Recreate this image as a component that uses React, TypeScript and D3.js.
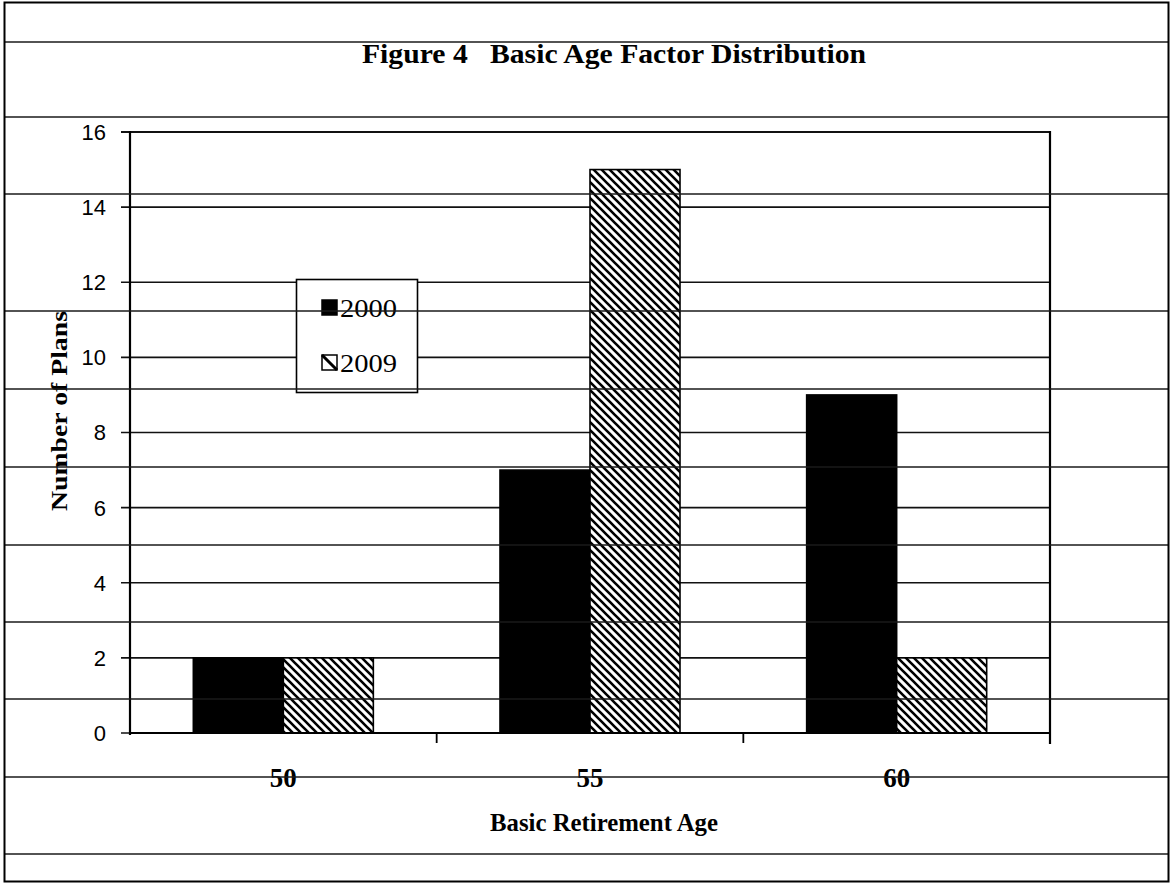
import React from "react";
import * as d3 from "d3";

// ---- data ----
const categories = ["50", "55", "60"];
const seriesNames = ["2000", "2009"];
const values2000 = [2, 7, 9];
const values2009 = [2, 15, 2];
const yTicks = [0, 2, 4, 6, 8, 10, 12, 14, 16];
const titleText = "Figure 4\u00a0\u00a0\u00a0Basic Age Factor Distribution";
const xTitle = "Basic Retirement Age";
const yTitle = "Number of Plans";

// decorative horizontal rules of the scanned page
const pageRules = [42, 117, 194, 311, 389, 467, 545, 622, 699, 777, 854];

const W = 1172;
const H = 884;
const M = { left: 130, right: 1050, top: 132, bottom: 733 };
const SERIF = "'Liberation Serif', 'Times New Roman', serif";
const SANS = "'Liberation Sans', Arial, sans-serif";

export default function App() {
  const x0 = d3.scaleBand<string>().domain(categories).range([M.left, M.right]).paddingInner(0).paddingOuter(0);
  const bw = x0.bandwidth();
  const groupW = bw * 0.587;
  const x1 = d3.scaleBand<string>().domain(seriesNames).range([(bw - groupW) / 2, (bw + groupW) / 2]);
  const y = d3.scaleLinear().domain([0, 16]).range([M.bottom, M.top]);

  const seriesData: { name: string; values: number[] }[] = [
    { name: seriesNames[0], values: values2000 },
    { name: seriesNames[1], values: values2009 },
  ];
  const fillFor = (name: string) => (name === "2000" ? "#000" : "url(#hatch)");

  const catTicks = d3.range(categories.length + 1).map((i) => M.left + i * bw);

  return (
    <svg width={W} height={H} style={{ position: "absolute", left: 0, top: 0, background: "#fff" }}>
      <defs>
        <pattern id="hatch" patternUnits="userSpaceOnUse" width={8} height={8}>
          <rect width={8} height={8} fill="#fff" />
          <path d="M-2,-2 L10,10 M-2,6 L2,10 M6,-2 L10,2" stroke="#000" strokeWidth={2.6} />
        </pattern>
      </defs>
      <rect x={0} y={0} width={W} height={H} fill="#fff" />

      {/* title */}
      <text x={614} y={63} textAnchor="middle" fontFamily={SERIF} fontWeight="bold" fontSize={27}
        textLength={504} lengthAdjust="spacingAndGlyphs">{titleText}</text>

      {/* gridlines */}
      {yTicks.map((t) => (
        <line key={"g" + t} x1={M.left - 9} x2={M.right} y1={y(t)} y2={y(t)} stroke="#111" strokeWidth={t === 16 ? 2.2 : 1.6} />
      ))}

      {/* bars */}
      {seriesData.map((s) => (
        <g key={s.name}>
          {s.values.map((v, i) => (
            <rect key={i} x={(x0(categories[i]) as number) + (x1(s.name) as number)} y={y(v)}
              width={x1.bandwidth()} height={y(0) - y(v)} fill={fillFor(s.name)}
              stroke="#000" strokeWidth={1.6} />
          ))}
        </g>
      ))}

      {/* axes & frame */}
      <line x1={M.left} x2={M.left} y1={M.top - 1} y2={M.bottom + 2} stroke="#000" strokeWidth={2.2} />
      <line x1={M.right} x2={M.right} y1={M.top - 1} y2={M.bottom + 11} stroke="#000" strokeWidth={2.2} />
      <line x1={M.left} x2={M.right} y1={M.bottom} y2={M.bottom} stroke="#000" strokeWidth={2.2} />
      {catTicks.slice(1, -1).map((t, i) => (
        <line key={"ct" + i} x1={t} x2={t} y1={M.bottom} y2={M.bottom + 10} stroke="#000" strokeWidth={1.8} />
      ))}

      {/* y tick labels */}
      {yTicks.map((t) => (
        <text key={"yl" + t} x={106} y={y(t)} dy="0.36em" textAnchor="end" fontFamily={SANS} fontSize={22} fill="#000">{t}</text>
      ))}

      {/* x tick labels */}
      {categories.map((c) => (
        <text key={"xl" + c} x={(x0(c) as number) + bw / 2} y={787} textAnchor="middle" fontFamily={SERIF}
          fontWeight="bold" fontSize={27}>{c}</text>
      ))}

      {/* axis titles */}
      <text x={604} y={831} textAnchor="middle" fontFamily={SERIF} fontWeight="bold" fontSize={25}
        textLength={228} lengthAdjust="spacingAndGlyphs">{xTitle}</text>
      <text transform={`translate(67,411) rotate(-90)`} textAnchor="middle" fontFamily={SERIF} fontWeight="bold"
        fontSize={23} textLength={200} lengthAdjust="spacingAndGlyphs">{yTitle}</text>

      {/* legend */}
      <g>
        <rect x={296.5} y={279.5} width={121} height={113} fill="#fff" stroke="#000" strokeWidth={1.6} />
        {seriesNames.map((n, i) => {
          const cy = 308 + i * 55;
          return (
            <g key={"lg" + n}>
              <rect x={322} y={cy - 8} width={15} height={15}
                fill={n === "2000" ? "#000" : "#fff"} stroke="#000" strokeWidth={1.5} />
              {n !== "2000" && (
                <line x1={322} y1={cy - 8} x2={337} y2={cy + 7} stroke="#000" strokeWidth={3} />
              )}
              <text x={340} y={cy + 8.5} fontFamily={SERIF} fontSize={26} textLength={57}
                lengthAdjust="spacingAndGlyphs">{n}</text>
            </g>
          );
        })}
      </g>

      {/* page rules on top */}
      {pageRules.map((r) => (
        <line key={"pr" + r} x1={4} x2={1169} y1={r} y2={r} stroke="#1a1a1a" strokeWidth={1.6} />
      ))}

      {/* outer border */}
      <rect x={4.5} y={2.5} width={1164} height={879} fill="none" stroke="#000" strokeWidth={2} />
    </svg>
  );
}
